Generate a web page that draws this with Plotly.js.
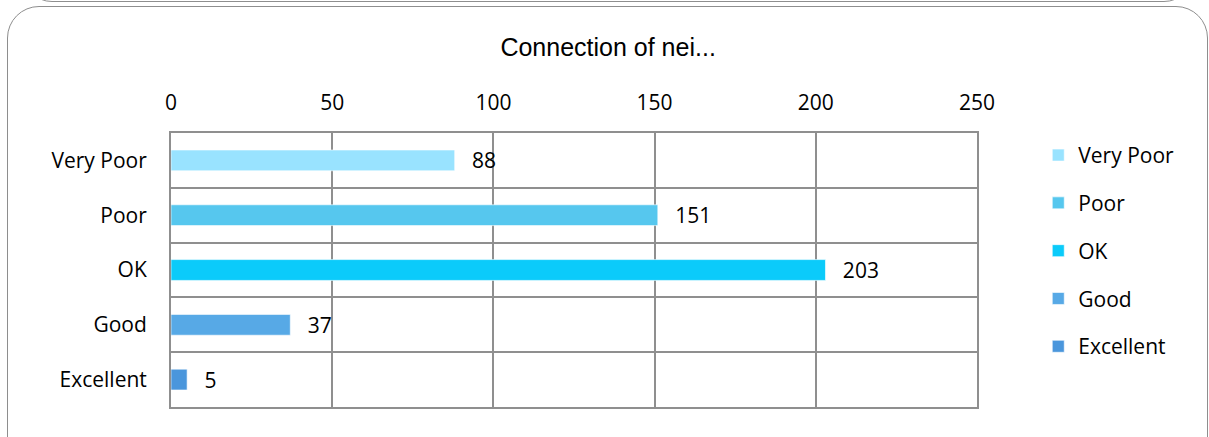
<!DOCTYPE html>
<html>
<head>
<meta charset="utf-8">
<script src="https://cdn.plot.ly/plotly-3.0.1.min.js"></script>
<style>
  html, body { margin: 0; padding: 0; background: #fff; }
  #wrap { position: relative; width: 1209px; height: 437px; overflow: hidden; }
  #prev { position: absolute; left: 22px; top: -59px; width: 1172px; height: 61px;
          border: 1.5px solid #8e8e8e; border-radius: 30px; box-sizing: border-box; }
  #panel { position: absolute; left: 7px; top: 6px; width: 1201px; height: 480px;
           border: 1.5px solid #8e8e8e; border-radius: 32px; box-sizing: border-box; }
  #chart { position: absolute; left: 0; top: 0; width: 1209px; height: 437px; }
</style>
</head>
<body>
<div id="wrap">
  <div id="prev"></div>
  <div id="panel"></div>
  <div id="chart"></div>
</div>
<script>
const chartTitle = "Connection of nei...";
const categories = ["Very Poor", "Poor", "OK", "Good", "Excellent"];
const values = [88, 151, 203, 37, 5];
const barColors = ["#99E3FF", "#56C7EE", "#0BCBFA", "#57A9E6", "#4A96DC"];
const xTicks = [0, 50, 100, 150, 200, 250];

const FONT = "Open Sans, sans-serif";

const traces = categories.map((c, i) => ({
  type: "bar",
  orientation: "h",
  name: c,
  legendgroup: c,
  y: [c],
  x: [values[i]],
  marker: { color: barColors[i], line: { color: "rgba(255,255,255,0.6)", width: 1 } },
  texttemplate: "\u00a0\u00a0\u2009%{x}",
  textposition: "outside",
  constraintext: "none",
  cliponaxis: false,
  textfont: { family: FONT, size: 21, color: "#000" },
  hoverinfo: "x+y"
}));

const layout = {
  width: 1209, height: 437,
  paper_bgcolor: "rgba(0,0,0,0)",
  plot_bgcolor: "rgba(0,0,0,0)",
  margin: { l: 171, r: 232, t: 133, b: 30, pad: 0 },
  barmode: "overlay",
  bargap: 0.62,
  showlegend: true,
  title: {
    text: chartTitle,
    font: { family: "Liberation Sans, Arial, sans-serif", size: 25, color: "#000" },
    x: 0.503, xref: "container", y: 0.892, yref: "container", xanchor: "center", yanchor: "middle"
  },
  xaxis: {
    side: "top",
    range: [0, 250],
    tickvals: xTicks,
    ticktext: xTicks.map(String),
    showgrid: true, gridcolor: "#8f8f8f", gridwidth: 2,
    showline: true, linecolor: "#8f8f8f", linewidth: 2, mirror: true,
    zeroline: false,
    ticks: "outside", ticklen: 13, tickcolor: "rgba(0,0,0,0)",
    tickfont: { family: FONT, size: 21, color: "#000" },
    fixedrange: true
  },
  yaxis: {
    type: "category",
    categoryorder: "array", categoryarray: categories,
    autorange: "reversed",
    tickson: "boundaries",
    showgrid: true, gridcolor: "#8f8f8f", gridwidth: 2,
    showline: true, linecolor: "#8f8f8f", linewidth: 2, mirror: true,
    ticks: "", ticklabelstandoff: 18,
    tickfont: { family: FONT, size: 21, color: "#000" },
    fixedrange: true
  },
  legend: {
    x: 1.076, xanchor: "left", y: 0.993, yanchor: "top",
    font: { family: FONT, size: 21, color: "#000" },
    tracegroupgap: 17.5, itemwidth: 30,
    bgcolor: "rgba(0,0,0,0)"
  }
};

Plotly.newPlot("chart", traces, layout, { displayModeBar: false, staticPlot: true });
</script>
</body>
</html>
